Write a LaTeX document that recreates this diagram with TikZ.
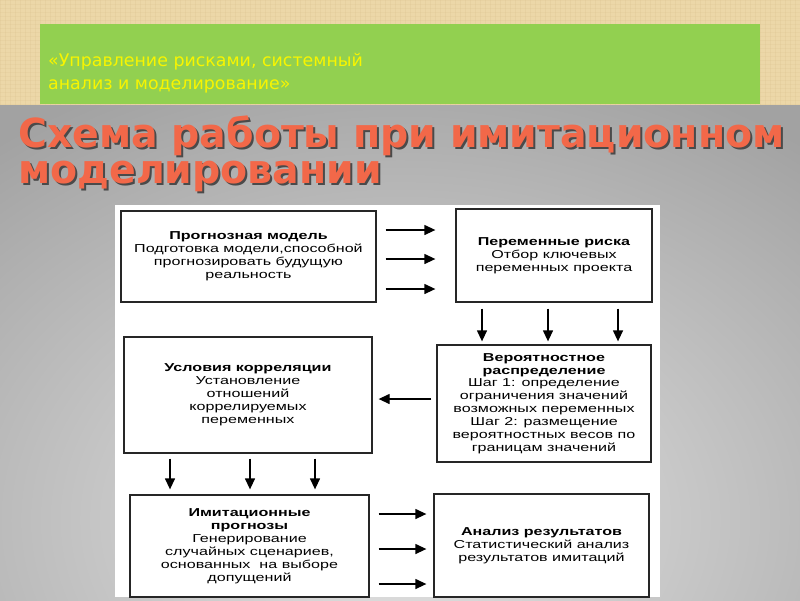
\documentclass[tikz,border=0pt]{standalone}
\usepackage{fontspec}
\setmainfont{Liberation Sans}
\newfontfamily\bannerfont{DejaVu Sans}
\newfontfamily\titlefont[FakeStretch=0.985]{DejaVu Sans}
\newfontfamily\boxfont[FakeStretch=1.4]{Liberation Sans}
\usetikzlibrary{arrows.meta}
\definecolor{beige}{HTML}{ECD7A8}
\definecolor{beigedark}{HTML}{D8BC8A}
\definecolor{banner}{HTML}{92D050}
\definecolor{banneryellow}{HTML}{F8F500}
\definecolor{titlered}{HTML}{F26849}
\definecolor{titleshadow}{HTML}{4A4A4A}
\definecolor{bglight}{HTML}{E4E4E4}
\definecolor{bgdark}{HTML}{A2A2A2}
\newcommand{\shadowed}[1]{\rlap{\hspace{2pt}\raisebox{-2.5pt}{\textcolor{titleshadow}{#1}}}\textcolor{titlered}{#1}}
\tikzset{
  box/.style={draw=black!85, line width=1.3pt, fill=white, align=center, inner sep=0pt,
    font=\boxfont\fontsize{11.5}{12.9}\selectfont},
  arr/.style={line width=1.3pt, -{Triangle[length=11pt,width=10pt]}},
  titletext/.style={anchor=base west, inner sep=0pt, font=\titlefont\bfseries\fontsize{40}{40}\selectfont},
  bannertext/.style={anchor=base west, inner sep=0pt, text=banneryellow, font=\bannerfont\fontsize{17.4}{17.4}\selectfont}
}
\begin{document}
\begin{tikzpicture}[x=1pt,y=-1pt]
\useasboundingbox (0,0) rectangle (800,600);
% beige textured top
\fill[beige] (0,0) rectangle (800,105);
\foreach \i in {0,5,...,800} {\draw[beigedark, opacity=0.22, line width=0.5pt] (\i,0) -- (\i,105);}
\foreach \j in {0,4,...,105} {\draw[beigedark, opacity=0.18, line width=0.4pt] (0,\j) -- (800,\j);}
% green banner
\fill[banner] (40,24) rectangle (760,104);
\node[bannertext] (ban1) at (48,66) {«Управление рисками, системный};
\node[bannertext] (ban2) at (48,89) {анализ и моделирование»};
% gray background
\begin{scope}
\clip (0,105) rectangle (800,600);
\shade[inner color=bglight, outer color=bgdark] (-250,40) rectangle (1050,1000);
\end{scope}
% title with shadow
\node[titletext] (title1) at (18,147) {\shadowed{Схема работы при имитационном}};
\node[titletext] (title2) at (18,183) {\shadowed{моделировании}};
% white panel
\fill[white] (115,205) rectangle (660,597);
% boxes
\node[box, minimum width=255pt, minimum height=91pt] (b1) at (248.5,256.5)
  {\textbf{Прогнозная модель}\\Подготовка модели,способной\\прогнозировать будущую\\реальность};
\node[box, minimum width=196pt, minimum height=93pt] (b2) at (554,255.5)
  {\textbf{Переменные риска}\\Отбор ключевых\\переменных проекта};
\node[box, minimum width=214pt, minimum height=117pt] (b3) at (544,403.5)
  {\textbf{Вероятностное}\\\textbf{распределение}\\Шаг 1: определение\\ограничения значений\\возможных переменных\\Шаг 2: размещение\\вероятностных весов по\\границам значений};
\node[box, minimum width=248pt, minimum height=116pt] (b4) at (248,395)
  {\textbf{Условия корреляции}\\Установление\\отношений\\коррелируемых\\переменных};
\node[box, minimum width=239pt, minimum height=102pt] (b5) at (249.5,546)
  {\textbf{Имитационные}\\\textbf{прогнозы}\\Генерирование\\случайных сценариев,\\основанных~ на выборе\\допущений};
\node[box, minimum width=215pt, minimum height=103pt] (b6) at (541.5,545.5)
  {\textbf{Анализ результатов}\\Статистический анализ\\результатов имитаций};
% arrows b1 -> b2
\foreach \yy in {230,259,289}
  \draw[arr, shorten <=9pt, shorten >=20pt] (b1.east |- 0,\yy) -- (b2.west |- 0,\yy);
% arrows b2 -> b3
\foreach \xx in {482,548,618}
  \draw[arr, shorten <=6pt, shorten >=3pt] (b2.south -| \xx,0) -- (b3.north -| \xx,0);
% arrow b3 -> b4
\draw[arr, shorten <=5pt, shorten >=6pt] (b3.west |- 0,399) -- (b4.east |- 0,399);
% arrows b4 -> b5
\foreach \xx in {170,250,315}
  \draw[arr, shorten <=5pt, shorten >=5pt] (b4.south -| \xx,0) -- (b5.north -| \xx,0);
% arrows b5 -> b6
\foreach \yy in {514,549,584}
  \draw[arr, shorten <=9pt, shorten >=7pt] (b5.east |- 0,\yy) -- (b6.west |- 0,\yy);
\end{tikzpicture}
\end{document}
